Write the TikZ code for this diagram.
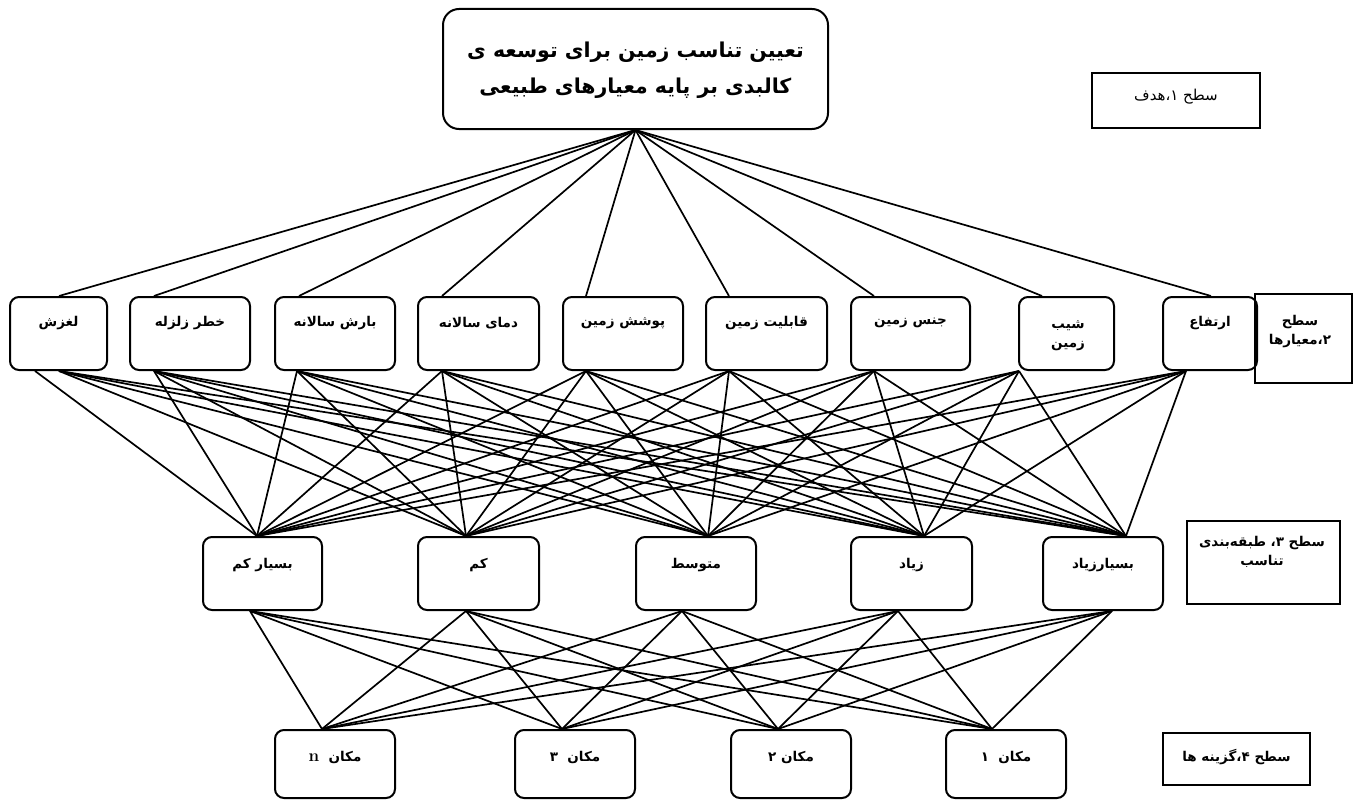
\documentclass[tikz,border=0pt]{standalone}
\usepackage{fontspec}
\newfontfamily\fa[Script=Arabic]{DejaVu Sans}
\TeXXeTstate=1
\begin{document}
\begin{tikzpicture}[x=1pt,y=-1pt,
  box/.style={draw, line width=2pt, rounded corners=9pt, inner sep=0pt},
  gbox/.style={draw, line width=2pt, rounded corners=16pt, inner sep=0pt},
  lbl/.style={draw, line width=2pt, inner sep=0pt},
  conn/.style={line width=1.7pt, black},
  t2/.style={font=\fa\bfseries\fontsize{13.5}{19}\selectfont, inner sep=0pt, align=center},
  tg/.style={font=\fa\bfseries\fontsize{20.5}{36}\selectfont, inner sep=0pt, align=center},
  tl/.style={font=\fa\fontsize{15}{17}\selectfont, inner sep=0pt, align=center}]
\useasboundingbox (0,0) rectangle (1353,800);
\fill[white] (0,0) rectangle (1353,800);

% goal
\node[gbox, minimum width=385pt, minimum height=120pt] (goal) at (635.5,69) {};
\node[tg] (goaltxt) at (635.5,70) {\beginR تعیین تناسب زمین برای توسعه ی\endR\\\beginR کالبدی بر پایه معیارهای طبیعی\endR};

% level labels
\node[lbl, minimum width=168pt, minimum height=55pt] (L1) at (1176,100.5) {};
\node[tl] (L1t) at (1176,97) {\beginR سطح ۱،هدف\endR};
\node[lbl, minimum width=97pt, minimum height=89pt] (L2) at (1303.5,338.5) {};
\node[t2] (L2t) at (1300,332) {\beginR سطح\endR\\\beginR ۲،معیارها\endR};
\node[lbl, minimum width=153pt, minimum height=83pt] (L3) at (1263.5,562.5) {};
\node[t2] (L3t) at (1262,552) {\beginR سطح ۳، طبقه‌بندی\endR\\\beginR تناسب\endR};
\node[lbl, minimum width=147pt, minimum height=52pt] (L4) at (1236.5,759) {};
\node[t2] (L4t) at (1236.5,757) {\beginR سطح ۴،گزینه ها\endR};

% level 2 criteria
\foreach \n/\l/\r/\tx/\bx in {A/10/107/50/50, B/130/250/25/25, C/275/395/25/23, D/418/539/25/25, E/563/683/24/24, F/706/827/24/24, G/851/970/24/24, H/1019/1114/24/1, I/1163/1257/49/24} {
  \node[box, minimum width={\r-\l}, minimum height=73pt] (\n) at ({(\l+\r)/2},333.5) {};
  \coordinate (\n-t) at ([xshift=\tx pt]\n.north west);
  \coordinate (\n-b) at ([xshift=\bx pt]\n.south west);
}
\coordinate (A-b2) at ([xshift=26pt]A.south west);
\node[t2] (At) at (58.5,323) {\beginR لغزش\endR};
\node[t2] (Bt) at (190,323) {\beginR خطر زلزله\endR};
\node[t2] (Ct) at (335,323) {\beginR بارش سالانه\endR};
\node[t2] (Dt) at (478.5,323) {\beginR دمای سالانه\endR};
\node[t2] (Et) at (623,323) {\beginR پوشش زمین\endR};
\node[t2] (Ft) at (766.5,323) {\beginR قابلیت زمین\endR};
\node[t2] (Gt) at (910.5,323) {\beginR جنس زمین\endR};
\node[t2] (Ht) at (1068,336) {\beginR شیب\endR\\\beginR زمین\endR};
\node[t2] (It) at (1210,323) {\beginR ارتفاع\endR};

% level 3 classes
\foreach \n/\l/\r/\tx/\bx in {a/203/322/55/48, b/418/539/49/49, c/636/756/73/47, d/851/972/74/48, e/1043/1163/84/70} {
  \node[box, minimum width={\r-\l}, minimum height=73pt] (\n) at ({(\l+\r)/2},573.5) {};
  \coordinate (\n-t) at ([xshift=\tx pt]\n.north west);
  \coordinate (\n-b) at ([xshift=\bx pt]\n.south west);
}
\node[t2] (at) at (262.5,565) {\beginR بسیار کم\endR};
\node[t2] (bt) at (478.5,565) {\beginR کم\endR};
\node[t2] (ct) at (696,565) {\beginR متوسط\endR};
\node[t2] (dt) at (911.5,565) {\beginR زیاد\endR};
\node[t2] (et) at (1103,565) {\beginR بسیارزیاد\endR};

% level 4 alternatives
\foreach \n/\l/\r/\tx in {pn/275/395/48, p3/515/635/48, p2/731/851/48, p1/946/1066/47} {
  \node[box, minimum width={\r-\l}, minimum height=68pt] (\n) at ({(\l+\r)/2},764) {};
  \coordinate (\n-t) at ([xshift=\tx pt]\n.north west);
}
\node[t2] (pnt) at (335,757) {\beginR مکان \ \beginL{\rmfamily\bfseries\fontsize{17}{19}\selectfont n}\endL\endR};
\node[t2] (p3t) at (575,757) {\beginR مکان \ ۳\endR};
\node[t2] (p2t) at (791,757) {\beginR مکان ۲\endR};
\node[t2] (p1t) at (1006,757) {\beginR مکان \ ۱\endR};

% connectors goal -> criteria
\foreach \u in {A,B,C,D,E,F,G,H,I} {\draw[conn] (goal.south) -- (\u-t);}
% criteria -> classes
\draw[conn] (A-b2) -- (a-t);
\foreach \v in {b,c,d,e} {\draw[conn] (A-b) -- (\v-t);}
\foreach \u in {B,C,D,E,F,G,H,I} {\foreach \v in {a,b,c,d,e} {\draw[conn] (\u-b) -- (\v-t);}}
% classes -> alternatives
\foreach \v in {a,b,c,d,e} {\foreach \w in {pn,p3,p2,p1} {\draw[conn] (\v-b) -- (\w-t);}}
\end{tikzpicture}
\end{document}
